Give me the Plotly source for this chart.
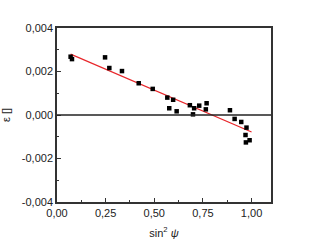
import plotly.graph_objects as go

sin2psi = [0.070, 0.077, 0.247, 0.269, 0.334, 0.420, 0.492, 0.567, 0.597, 0.577,
           0.615, 0.683, 0.705, 0.699, 0.731, 0.769, 0.765, 0.889, 0.913, 0.947,
           0.974, 0.969, 0.971, 0.990]
strain = [0.00268, 0.00257, 0.00265, 0.00216, 0.00202, 0.00146, 0.00120, 0.00080,
          0.00070, 0.00031, 0.00017, 0.00045, 0.00031, 0.00003, 0.00043, 0.00054,
          0.00026, 0.00022, -0.00018, -0.00032, -0.00058, -0.00092, -0.00126, -0.00116]
fit_x = [0.07, 1.0]
fit_y = [0.0028, -0.00078]

tick_x = [0, 0.25, 0.5, 0.75, 1.0]
tick_x_text = ["0,00", "0,25", "0,50", "0,75", "1,00"]
tick_y = [-0.004, -0.002, 0, 0.002, 0.004]
tick_y_text = ["-0,004", "-0,002", "0,000", "0,002", "0,004"]

fig = go.Figure()
fig.add_trace(go.Scatter(x=fit_x, y=fit_y, mode="lines",
                         line=dict(color="#e8262a", width=1.2), showlegend=False))
fig.add_trace(go.Scatter(x=sin2psi, y=strain, mode="markers",
                         marker=dict(symbol="square", size=4.5, color="black"),
                         showlegend=False))
fig.add_hline(y=0, line=dict(color="#222", width=1.5))

axis_common = dict(showgrid=False, zeroline=False, showline=True, linecolor="#333",
                   linewidth=1.5, mirror=True, ticks="inside", ticklen=4,
                   tickcolor="#333", tickwidth=1, automargin=False,
                   tickfont=dict(family="Liberation Sans, Arial", size=11, color="#222"))

fig.update_xaxes(range=[0, 1.1], tickvals=tick_x, ticktext=tick_x_text,
                 minor=dict(ticks="inside", ticklen=2, dtick=0.125, tick0=0, tickcolor="#333"),
                 title=dict(text="sin<sup>2</sup> <i>ψ</i>", standoff=11,
                            font=dict(family="Liberation Sans, Arial", size=11, color="#222")),
                 **axis_common)
fig.update_yaxes(range=[-0.004, 0.004], tickvals=tick_y, ticktext=tick_y_text,
                 minor=dict(ticks="inside", ticklen=2, dtick=0.001, tick0=0, tickcolor="#333"),
                 title=dict(text="ε []", standoff=10,
                            font=dict(family="Liberation Sans, Arial", size=11, color="#222")),
                 **axis_common)

fig.update_layout(width=316, height=244, margin=dict(l=57, r=45, t=28, b=42),
                  paper_bgcolor="white", plot_bgcolor="white")
fig.write_html("out.html")
